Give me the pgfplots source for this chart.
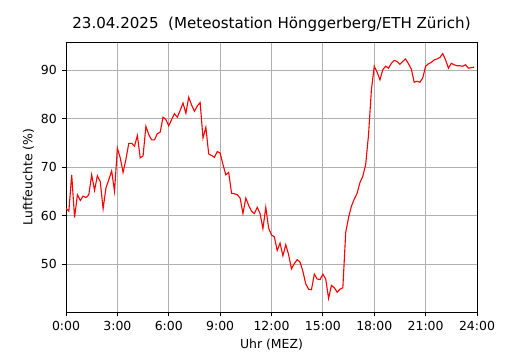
\documentclass[border=0pt]{standalone}
\usepackage{pgfplots}
\pgfplotsset{compat=1.18}
\usepackage{fontspec}
\setmainfont{DejaVu Sans}
\begin{document}
\begin{tikzpicture}
\begin{axis}[
  name=ax,
  scale only axis,
  width=4.11in, height=2.70in,
  xmin=0, xmax=24, ymin=40.1, ymax=95.8,
  xtick={0,3,...,24},
  xticklabels={0:00,3:00,6:00,9:00,12:00,15:00,18:00,21:00,24:00},
  ytick={50,60,70,80,90},
  grid=major,
  major grid style={color=black!31, line width=0.7pt},
  axis line style={line width=0.7pt},
  tick style={black, line width=0.7pt},
  tick align=outside, tickpos=left,
  major tick length=3.2pt,
  tick label style={font=\fontsize{9}{11}\selectfont},
  /pgf/number format/assume math mode=true,
  xlabel={Uhr (MEZ)}, ylabel={Luftfeuchte (\%)},
  label style={font=\fontsize{9}{11}\selectfont},
  xlabel style={yshift=1pt},
  ylabel style={yshift=-2pt},
  title={23.04.2025\ \ (Meteostation Hönggerberg/ETH Zürich)},
  title style={font=\fontsize{10.9}{13}\selectfont, yshift=-2pt},
]
\addplot[red, line width=0.8pt] table[x expr=\thisrowno{0}/6, y index=1] {
0 61.5
1 60.9
2 68.4
3 59.6
4 64.3
5 63.1
6 64.0
7 63.7
8 64.3
9 68.4
10 65.2
11 68.2
12 67.0
13 61.4
14 65.7
15 67.4
16 69.2
17 65.0
18 73.9
19 71.9
20 68.9
21 71.6
22 74.9
23 74.9
24 74.3
25 76.5
26 71.9
27 72.3
28 78.4
29 76.7
30 75.6
31 75.6
32 76.9
33 77.2
34 80.3
35 79.8
36 78.5
37 79.8
38 81.0
39 80.3
40 81.7
41 83.2
42 81.1
43 84.4
44 82.8
45 81.5
46 82.6
47 83.3
48 76.0
49 78.2
50 72.7
51 72.4
52 72.0
53 73.2
54 72.9
55 70.5
56 68.4
57 68.9
58 64.6
59 64.5
60 64.3
61 63.6
62 60.4
63 63.6
64 62.1
65 60.9
66 60.4
67 61.7
68 60.4
69 57.3
70 61.7
71 57.4
72 56.0
73 55.6
74 52.8
75 54.3
76 51.7
77 54.0
78 51.9
79 49.0
80 50.1
81 50.9
82 50.4
83 48.5
84 45.9
85 44.8
86 44.7
87 47.9
88 46.9
89 46.8
90 47.9
91 46.9
92 42.9
93 45.6
94 45.1
95 44.2
96 44.8
97 45.1
98 56.5
99 59.6
100 61.9
101 63.4
102 64.6
103 66.8
104 68.1
105 70.5
106 76.7
107 85.9
108 90.8
109 89.6
110 88.0
111 90.1
112 90.8
113 90.4
114 91.4
115 92.0
116 91.8
117 91.2
118 91.8
119 92.3
120 91.3
121 90.2
122 87.5
123 87.7
124 87.5
125 88.4
126 90.8
127 91.3
128 91.6
129 92.1
130 92.3
131 92.6
132 93.4
133 92.1
134 90.4
135 91.4
136 91.1
137 90.9
138 90.9
139 90.8
140 91.1
141 90.4
142 90.5
143 90.6
};
\end{axis}
\path[use as bounding box] ([xshift=-0.66in,yshift=-0.38in]ax.south west) rectangle ([xshift=0.53in,yshift=0.42in]ax.north east);
\end{tikzpicture}
\end{document}
